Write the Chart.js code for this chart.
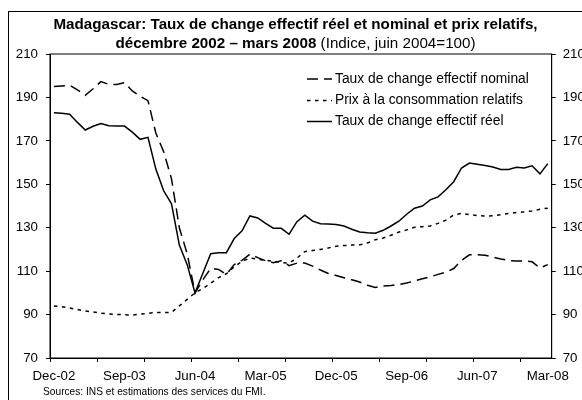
<!DOCTYPE html>
<html><head><meta charset="utf-8">
<script src="https://cdn.jsdelivr.net/npm/chart.js@4.4.0/dist/chart.umd.min.js"></script>
<style>
html,body{margin:0;padding:0;background:#fff;overflow:hidden;}
#wrap{position:relative;width:582px;height:400px;overflow:hidden;font-family:"Liberation Sans",Arial,sans-serif;color:#000;}
#frame{position:absolute;left:8px;top:11px;width:600px;height:420px;border-left:1px solid #000;border-top:1px solid #000;}
#title{position:absolute;left:9.5px;width:572px;top:14px;text-align:center;font-size:15.2px;line-height:19px;}
#src{position:absolute;left:43px;top:386px;font-size:10.2px;line-height:12px;}
canvas{position:absolute;left:0;top:0;}
</style></head>
<body>
<div id="wrap">
<div id="frame"></div>
<canvas id="c" width="582" height="400"></canvas>
<div id="title"><b>Madagascar: Taux de change effectif réel et nominal et prix relatifs,</b><br><b>décembre 2002 – mars 2008</b> (Indice, juin 2004=100)</div>
<div id="src">Sources: INS et estimations des services du FMI.</div>
</div>
<script>
// ---- DATA ----
const monthNames = ['Jan','Feb','Mar','Apr','May','Jun','Jul','Aug','Sep','Oct','Nov','Dec'];
const categories = [];
for (let k = 0; k < 64; k++) { const m = (11 + k) % 12; const yr = 2002 + Math.floor((11 + k) / 12); categories.push(monthNames[m] + '-' + String(yr).slice(2)); }
const tickLabels = ['Dec-02','Sep-03','Jun-04','Mar-05','Dec-05','Sep-06','Jun-07','Mar-08'];
const seriesNames = ['Taux de change effectif nominal','Prix à la consommation relatifs','Taux de change effectif réel'];
const nominal = [195,195.3,195.6,193.5,191,194,197.3,196,196,196.8,193,190.5,188.5,173.6,165,152.5,130,118,100,
  106,111.3,110.8,108.5,113,115,117.8,116.2,114.8,113.9,114.8,112.5,113.7,113.7,112.3,110.5,108.9,108,107,106,105,103.5,102.5,
  103.2,103.4,103.8,104.5,105.5,106.5,107.4,108.5,109.5,111.2,115,117.5,117.6,117.3,116.5,115.6,114.9,114.7,114.7,114.3,111.5,113];
const prices = [94,93.6,93,92.3,91.7,91.2,90.6,90.3,90.1,89.9,89.8,90.2,90.6,91,91,91,94,97,100,
  102,104.5,107,108.8,112,114.5,116,115.5,115,114.5,114,113.7,116,119,119.5,120,120.7,121.5,121.8,122,122.1,123,124.5,
  125.3,126.5,128,129,130.2,130.5,130.8,132,133.5,135.9,136.6,136,135.6,135.4,135.5,136,136.5,137,137.3,137.7,138.5,139];
const real = [183,182.7,182.3,178.5,175,176.7,178,177,176.8,176.8,174,170.7,171.6,157,147,141,122,113,100,
  109,118,118.5,118.5,125,128.6,135.4,134.5,132,129.8,129.7,127,132.8,135.8,133,131.8,131.7,131.5,130.8,129.3,128,127.7,127.5,
  128.8,130.8,133,136.2,139,140,142.8,144.2,147.5,151.2,157.5,159.8,159.2,158.6,158,156.8,156.8,157.8,157.5,158.5,154.8,159.5];
const yMin = 70, yMax = 210, yStep = 20;

// ---- CHART ----
const FONT = '"Liberation Sans", Arial, sans-serif';
const boxPlugin = {
  id: 'box',
  afterDraw(chart) {
    const a = chart.chartArea, c = chart.ctx;
    c.save(); c.strokeStyle = '#000'; c.lineWidth = 1;
    c.strokeRect(a.left, a.top, a.right - a.left, a.bottom - a.top);
    c.restore();
  }
};
const legendPlugin = {
  id: 'lg',
  afterDraw(chart) {
    const c = chart.ctx, a = chart.chartArea;
    const x0 = 307, rows = [a.top + 25, a.top + 46.5, a.top + 67.5];
    c.save();
    chart.data.datasets.forEach((ds, i) => {
      const y = rows[i];
      c.beginPath(); c.setLineDash(ds.borderDash || []); c.lineWidth = 1.5; c.strokeStyle = '#000';
      c.moveTo(x0, y); c.lineTo(x0 + 25, y); c.stroke();
      c.setLineDash([]);
      c.fillStyle = '#000'; c.font = '13.8px ' + FONT; c.textBaseline = 'middle'; c.textAlign = 'left';
      c.fillText(ds.label, x0 + 28, y);
    });
    c.restore();
  }
};
const tickFont = { size: 13.3, family: FONT };
new Chart(document.getElementById('c'), {
  type: 'line',
  data: {
    labels: categories,
    datasets: [
      { label: seriesNames[0], data: nominal, borderDash: [11, 6] },
      { label: seriesNames[1], data: prices, borderDash: [3.5, 4.5] },
      { label: seriesNames[2], data: real, borderDash: [] }
    ]
  },
  options: {
    responsive: false, animation: false,
    layout: { padding: { top: 54, left: 0, right: 0, bottom: 0 } },
    plugins: { legend: { display: false }, title: { display: false }, tooltip: { enabled: false } },
    elements: { point: { radius: 0 }, line: { tension: 0, borderWidth: 1.5, borderColor: '#000', fill: false } },
    scales: {
      x: {
        type: 'category', offset: true,
        grid: { display: true, drawOnChartArea: false, offset: true, tickLength: 4,
          tickColor: (c) => (c.index % 6 === 0 ? '#000' : 'rgba(0,0,0,0)'), color: '#000' },
        border: { display: true, color: '#000', width: 1 },
        ticks: { autoSkip: false, maxRotation: 0, minRotation: 0, padding: 6, color: '#000', font: tickFont,
          callback: (v, i) => (i % 9 === 0 ? tickLabels[i / 9] : '') },
        afterFit: (s) => { s.height = 42; }
      },
      y: {
        position: 'left', min: yMin, max: yMax,
        ticks: { stepSize: yStep, padding: 8, color: '#000', font: tickFont },
        grid: { drawOnChartArea: false, tickLength: 4, tickColor: '#000' },
        border: { display: true, color: '#000', width: 1 },
        afterFit: (s) => { s.width = 50; }
      },
      y1: {
        position: 'right', min: yMin, max: yMax,
        ticks: { stepSize: yStep, padding: 7, color: '#000', font: tickFont },
        grid: { drawOnChartArea: false, tickLength: 4, tickColor: '#000' },
        border: { display: true, color: '#000', width: 1 },
        afterFit: (s) => { s.width = 30.3; }
      }
    }
  },
  plugins: [boxPlugin, legendPlugin]
});
</script>
</body></html>
